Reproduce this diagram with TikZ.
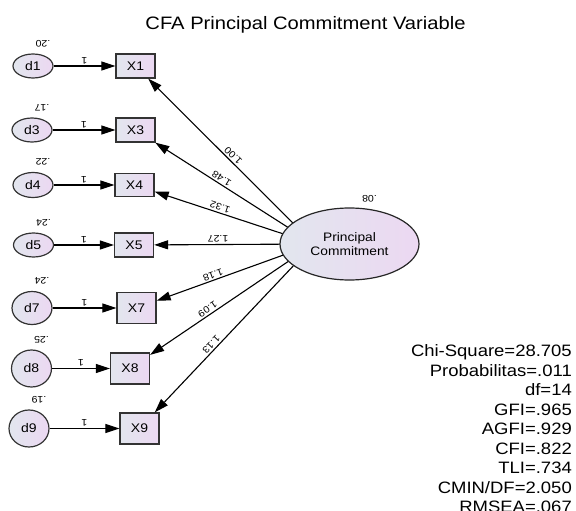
\documentclass[tikz,border=0pt]{standalone}
\usepackage{fontspec}
\setmainfont{Liberation Sans}
\usetikzlibrary{shapes.geometric,arrows.meta,calc}
\definecolor{shadeL}{RGB}{226,230,238}
\definecolor{shadeR}{RGB}{236,216,242}
\newcommand\widetext[1]{\scalebox{1.12}[1]{#1}}
\tikzset{
  errnode/.style={ellipse,draw=black!80,line width=1.2pt,left color=shadeL,right color=shadeR,
    inner sep=0pt,minimum width=40pt,font=\fontsize{12.5}{14}\selectfont},
  obsnode/.style={rectangle,draw=black!80,line width=1.3pt,left color=shadeL,right color=shadeR,
    inner sep=0pt,minimum width=39pt,font=\fontsize{12.5}{14}\selectfont},
  latnode/.style={ellipse,draw=black!85,line width=1.2pt,left color=shadeL,right color=shadeR,
    inner sep=0pt,minimum width=139pt,minimum height=72pt,align=center,font=\fontsize{12.3}{14.3}\selectfont},
  conn/.style={line width=1.1pt,-{Triangle[length=14pt,width=9pt]}},
  smalllab/.style={font=\fontsize{9.5}{11}\selectfont,inner sep=1.5pt},
  varlab/.style={smalllab,rotate=180},
  onelab/.style={smalllab,below,rotate=180},
  loadlab/.style={smalllab,sloped,allow upside down,below},
  statlab/.style={font=\fontsize{16.5}{19.5}\selectfont,anchor=base east,inner sep=0pt}
}
\begin{document}
\begin{tikzpicture}[x=1pt,y=-1pt]
    \useasboundingbox (0,0) rectangle (576,511);
    \node[anchor=base,inner sep=0pt,font=\fontsize{18}{20}\selectfont] (title) at (305.5,30) {\widetext{CFA Principal Commitment Variable}};
    % indicators with their error terms
    \foreach \i/\yy/\dx/\xx/\dh/\bh/\v in {1/66/33/135.5/24pt/24pt/.20, 3/130/32/135.5/24pt/24pt/.17,
        4/185/33/134.5/25pt/23pt/.22, 5/245/33.5/134/24pt/24pt/.24, 7/308/32/136.5/33pt/31pt/.24,
        8/368.5/31.5/130/37pt/31pt/.25, 9/428.5/29/139.5/37pt/31pt/.19} {
        \node[errnode,minimum height=\dh] (d\i) at (\dx,\yy) {\widetext{d\i}};
        \node[obsnode,minimum height=\bh] (x\i) at (\xx,\yy) {\widetext{X\i}};
        \node[varlab] (v\i) at ($(d\i.north)+(10,-10)$) {\widetext{\v}};
        \draw[conn] (d\i) -- node[onelab] (o\i) {\widetext{1}} (x\i);
    }
    % loadings
    \coordinate (hub) at (314,244);
    \foreach \i/\w/\p in {1/1.00/.51, 3/1.48/.6, 4/1.32/.6, 5/1.27/.6, 7/1.18/.63, 8/1.09/.63, 9/1.13/.62}
        \draw[conn] (hub) -- node[loadlab,pos=\p] (w\i) {\widetext{\w}} (x\i);
    \node[latnode] (pc) at (349.5,244) {\widetext{Principal}\\\widetext{Commitment}};
    \node[varlab] (vpc) at ($(pc.north)+(20,-9)$) {\widetext{.08}};
    % fit indices
    \foreach \s [count=\k] in {Chi-Square=28.705, Probabilitas=.011, df=14, GFI=.965, AGFI=.929,
        CFI=.822, TLI=.734, CMIN/DF=2.050, RMSEA=.067}
        \node[statlab] (s\k) at (572,337.5+19.45*\k) {\widetext{\s}};
\end{tikzpicture}
\end{document}
